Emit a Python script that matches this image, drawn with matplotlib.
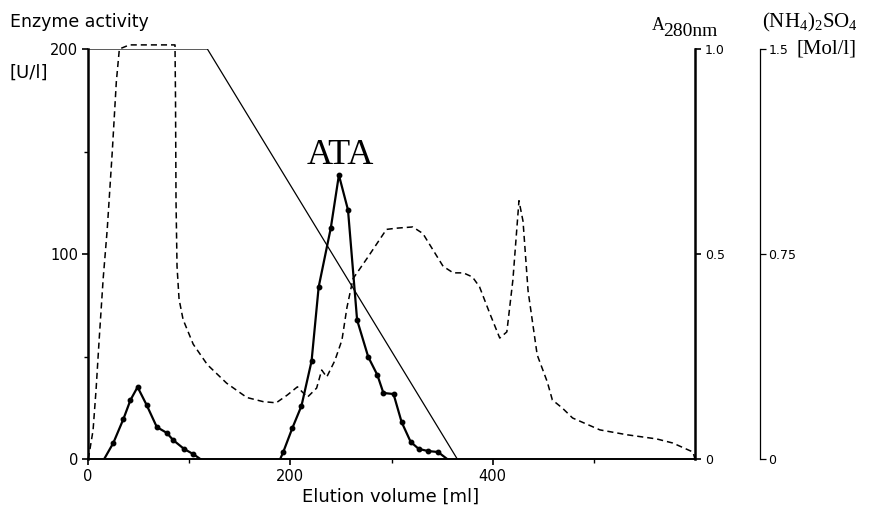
import matplotlib
matplotlib.use("Agg")
import matplotlib.pyplot as plt
from matplotlib.ticker import FixedLocator

plt.rcParams['font.family'] = ['DejaVu Sans']
plt.rcParams['mathtext.fontset'] = 'custom'
plt.rcParams['mathtext.rm'] = 'Liberation Serif'
plt.rcParams['mathtext.it'] = 'Liberation Serif'

# ---- data ----
# enzyme activity, first (front) peak [U/l]
act1_ml = [16, 25, 35, 42, 49, 58, 68, 78, 84, 95, 104, 111]
act1_val = [0, 7.8, 19.5, 28.8, 35.1, 26.3, 15.6, 12.7, 9.3, 4.9, 2.4, 0]
# enzyme activity, ATA peak [U/l]
act2_ml = [190, 193, 202, 211, 221, 228, 240, 248, 257, 266, 277, 286,
           292, 302, 310, 319, 327, 336, 346, 355]
act2_val = [0, 3.4, 15.1, 25.9, 47.8, 83.9, 112.7, 138.5, 121.5, 67.8, 49.8, 41,
            32.2, 31.7, 18, 8.3, 4.9, 3.9, 3.4, 0]
# absorbance at 280 nm
a280_ml = [0, 1, 5, 8, 11, 15, 19, 24, 28, 31, 41, 86, 86.5, 87, 88, 90, 94, 104,
           118, 137, 157, 173, 186, 197, 207, 212, 217, 226, 231, 236, 244, 251,
           256, 262, 276, 295, 305, 321, 331, 341, 351, 361, 371, 380, 387, 397,
           407, 414, 420, 426, 430, 435, 444, 454, 459, 469, 479, 506, 533, 562,
           578, 598, 600]
a280_val = [0, 0.01, 0.07, 0.17, 0.29, 0.44, 0.56, 0.75, 0.92, 1.0, 1.01, 1.01,
            0.88, 0.63, 0.47, 0.39, 0.34, 0.28, 0.23, 0.185, 0.15, 0.14, 0.137,
            0.156, 0.176, 0.163, 0.151, 0.173, 0.217, 0.2, 0.24, 0.29, 0.37, 0.44,
            0.49, 0.56, 0.563, 0.566, 0.55, 0.51, 0.47, 0.454, 0.454, 0.444, 0.42,
            0.356, 0.295, 0.31, 0.437, 0.63, 0.58, 0.41, 0.254, 0.188, 0.144,
            0.124, 0.1, 0.071, 0.059, 0.049, 0.039, 0.017, 0.0]
# ammonium sulfate gradient [Mol/l]
grad_ml = [0, 118, 365]
grad_mol = [1.5, 1.5, 0]

W, H = 870, 514
fig = plt.figure(figsize=(8.7, 5.14), dpi=100)
ax = fig.add_axes([88 / W, 1 - 459 / H, (695 - 88) / W, (459 - 49) / H])
ax.set_xlim(0, 600)
ax.set_ylim(0, 200)

ax2 = ax.twinx()
ax2.set_ylim(0, 1.0)
ax3 = ax.twinx()
ax3.set_ylim(0, 1.5)

for a in (ax, ax2, ax3):
    a.patch.set_visible(False)
    a.spines['top'].set_visible(False)
ax.spines['right'].set_visible(False)
ax2.spines['left'].set_visible(False)
ax2.spines['bottom'].set_visible(False)
ax3.spines['left'].set_visible(False)
ax3.spines['bottom'].set_visible(False)
ax3.spines['right'].set_position(('axes', (760 - 88) / (695 - 88)))
ax3.spines['right'].set_linewidth(0.9)
ax.spines['left'].set_linewidth(1.8)
ax.spines['bottom'].set_linewidth(1.4)
ax2.spines['right'].set_linewidth(1.8)

# curves
ax2.plot(a280_ml, a280_val, color='black', lw=1.1, ls=(0, (4, 2.6)), clip_on=False)
ax3.plot(grad_ml, grad_mol, color='black', lw=0.9)
ax.plot(act1_ml, act1_val, color='black', lw=1.6, marker='o', ms=3.2,
        markevery=list(range(1, len(act1_ml) - 1)))
ax.plot(act2_ml, act2_val, color='black', lw=1.6, marker='o', ms=3.2,
        markevery=list(range(1, len(act2_ml) - 1)))

# ticks
ax.set_xticks([0, 200, 400])
ax.set_xticklabels(['0', '200', '400'])
ax.xaxis.set_minor_locator(FixedLocator([100, 300, 500]))
ax.set_yticks([0, 100, 200])
ax.set_yticklabels(['0', '100', '200'])
ax.yaxis.set_minor_locator(FixedLocator([50, 150]))
ax.tick_params(axis='both', which='major', direction='out', length=4, width=1.2,
               labelsize=10.5, pad=3)
ax.tick_params(axis='both', which='minor', direction='out', length=3, width=1.0)

ax2.set_yticks([0, 0.5, 1.0])
ax2.set_yticklabels(['0', '0.5', '1.0'])
ax2.tick_params(axis='y', direction='out', length=4, width=1.2, labelsize=9, pad=3)

ax3.set_yticks([0, 0.75, 1.5])
ax3.set_yticklabels(['0', '0.75', '1.5'])
ax3.tick_params(axis='y', direction='out', length=4, width=0.9, labelsize=9, pad=2)

# texts
def ftext(x, y, s, **kw):
    fig.text(x / W, 1 - y / H, s, **kw)

ftext(10, 22, 'Enzyme activity', fontsize=12.5, va='center', ha='left')
ftext(10, 73, '[U/l]', fontsize=13, va='center', ha='left')
ftext(652, 25, 'A', fontsize=13, va='center', ha='left', family='Liberation Serif')
ftext(663, 32, '280nm', fontsize=14, va='center', ha='left', family='Liberation Serif')
ftext(762, 22, r'(NH$_4$)$_2$SO$_4$', fontsize=15, va='center', ha='left',
      family='Liberation Serif')
ftext(797, 49, '[Mol/l]', fontsize=15, va='center', ha='left', family='Liberation Serif')
ftext(340, 156, 'ATA', fontsize=26, va='center', ha='center', family='Liberation Serif')
ftext(391, 497, 'Elution volume [ml]', fontsize=13, va='center', ha='center')

fig.savefig('out.png', dpi=100)
